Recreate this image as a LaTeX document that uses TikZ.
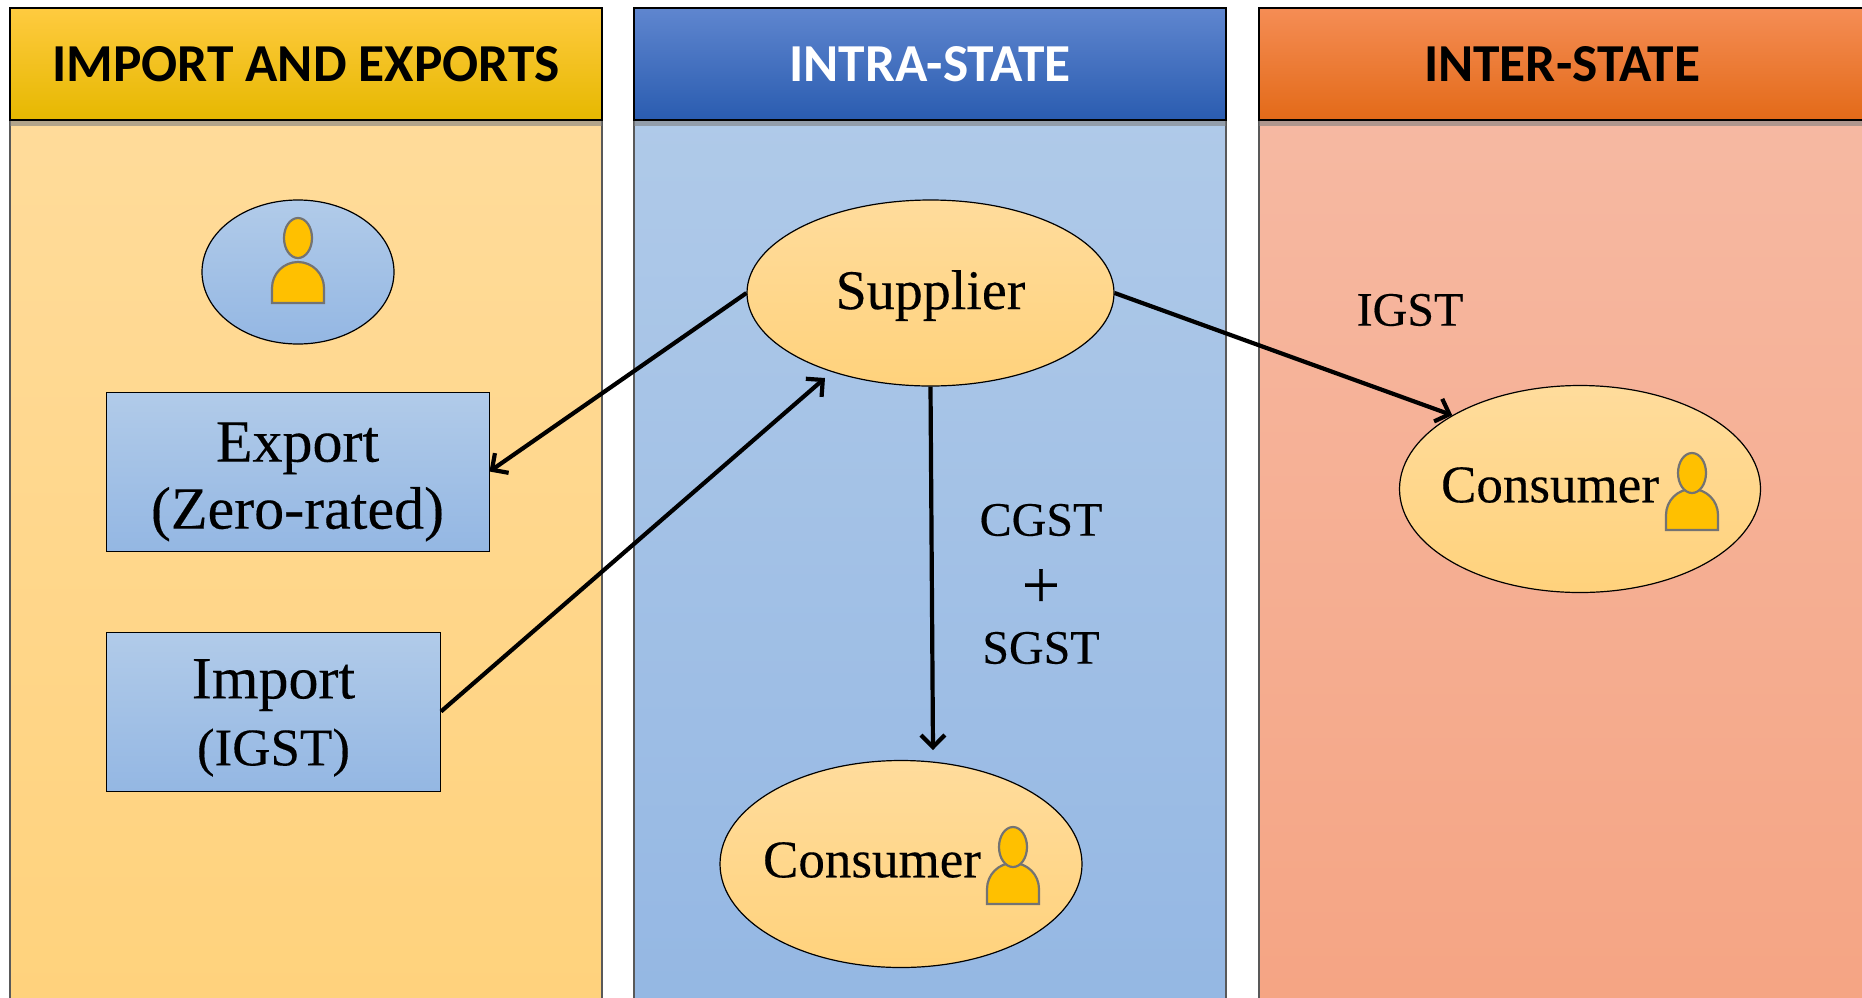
\documentclass[tikz,border=0pt]{standalone}
\usepackage{fontspec}
\setmainfont[FakeBold=0.25]{Liberation Serif}
\newfontfamily\headfont{Carlito}
\usepackage{xcolor}
\usetikzlibrary{positioning, arrows.meta, shapes, shadows}

\definecolor{goldTop}{HTML}{FFCB40}
\definecolor{goldMid}{HTML}{FFC000}
\definecolor{goldLow}{HTML}{E6B800}
\definecolor{blueTop}{HTML}{5F86CF}
\definecolor{blueMid}{HTML}{3B6EC8}
\definecolor{blueLow}{HTML}{2A5CB0}
\definecolor{orangeTop}{HTML}{F58D55}
\definecolor{orangeMid}{HTML}{F57B2E}
\definecolor{orangeLow}{HTML}{E36A18}
\definecolor{paleGold}{HTML}{FFDC9C}
\definecolor{lowGold}{HTML}{FFD27C}
\definecolor{paleBlue}{HTML}{B1CBE9}
\definecolor{lowBlue}{HTML}{94B7E3}
\definecolor{paleRed}{HTML}{F6BAA4}
\definecolor{lowRed}{HTML}{F5A483}

\tikzset{
    panelbox/.style={draw=black!65, line width=0.7pt, minimum width=296pt, minimum height=480pt, inner sep=0pt},
    headbox/.style={draw=black, line width=1.1pt, minimum width=296pt, minimum height=56pt, inner sep=0pt,
        font=\headfont\bfseries\fontsize{26.7}{32}\selectfont,
        drop shadow={shadow xshift=0pt, shadow yshift=-3pt, opacity=0.6}},
    goldoval/.style={ellipse, draw=black, line width=0.6pt, top color=paleGold, bottom color=lowGold, inner sep=0pt},
    blueoval/.style={ellipse, draw=black, line width=0.6pt, top color=paleBlue, bottom color=lowBlue, inner sep=0pt},
    bluebox/.style={draw=black, line width=0.5pt, top color=paleBlue, bottom color=lowBlue, inner sep=0pt, align=center,
        font=\fontsize{30}{33.5}\selectfont},
    txt/.style={font=\fontsize{26.5}{32}\selectfont, align=center, inner sep=0pt},
    flow/.style={-{Straight Barb[length=6pt, width=12pt]}, line width=2.1pt},
    pics/personicon/.style={code={
        \draw[draw=black!55, line width=1.1pt, fill=goldMid] (-26,#1+41) -- (-26,#1+26) arc[start angle=180, end angle=360, radius=26] -- (26,#1+41) -- cycle;
        \draw[draw=black!55, line width=1.1pt, fill=goldMid] (0,0) ellipse [x radius=14, y radius=20];
    }}
}

\begin{document}
\begin{tikzpicture}[x=0.5pt, y=-0.5pt]
    \useasboundingbox (0,0) rectangle (1862,997);

    % Panels
    \node[panelbox, top color=paleGold, bottom color=lowGold, anchor=north] (importpanel) at (306,60) {};
    \node[panelbox, top color=paleBlue, bottom color=lowBlue, anchor=north] (intrapanel) at (930,60) {};
    \node[panelbox, top color=paleRed, bottom color=lowRed, anchor=north, minimum width=306pt] (interpanel) at (1565,60) {};

    % Headers
    \node[headbox, top color=goldTop, middle color=goldMid, bottom color=goldLow] (importhead) at (306,64) {IMPORT AND EXPORTS};
    \node[headbox, top color=blueTop, middle color=blueMid, bottom color=blueLow, text=white] (intrahead) at (930,64) {INTRA-STATE};
    \node[headbox, top color=orangeTop, middle color=orangeMid, bottom color=orangeLow, minimum width=303pt] (interhead) at (1562,64) {INTER-STATE};

    % Left column
    \node[blueoval, minimum width=96pt, minimum height=72pt] (trader) at (298,272) {};
    \pic at (298,238) {personicon=24};
    \node[bluebox, minimum width=191.5pt, minimum height=79.5pt] (export) at (297.5,471.5) {\rule{0pt}{30pt}Export\\(Zero-rated)};
    \node[bluebox, minimum width=167pt, minimum height=79.5pt] (import) at (273.5,711.5) {\rule{0pt}{26pt}Import\\{\fontsize{26.5}{33.5}\selectfont (IGST)}};

    % Ovals
    \node[goldoval, minimum width=183.5pt, minimum height=93pt, txt, font=\fontsize{28}{32}\selectfont] (supplier) at (930.5,293) {\rule{0pt}{22pt}Supplier};
    \node[goldoval, minimum width=181pt, minimum height=103.5pt] (localbuyer) at (901,864) {};
    \node[txt] (localname) at (872,860) {Consumer};
    \pic at (1013,847) {personicon=16};
    \node[goldoval, minimum width=180.5pt, minimum height=103.5pt] (farbuyer) at (1580,489) {};
    \node[txt] (farname) at (1550,485) {Consumer};
    \pic at (1692,473) {personicon=16};

    % Tax labels
    \node[txt, font=\fontsize{24}{32}\selectfont] (localtax) at (1041,584) {CGST\\\smash{\raisebox{-4pt}{\fontsize{34}{32}\selectfont +}}\\SGST};
    \node[txt, font=\fontsize{24}{32}\selectfont] (fartax) at (1410,310) {IGST};

    % Flows
    \coordinate (supplierin) at (825,378);
    \coordinate (localin) at (933,750);
    \draw[flow] (supplier.west) -- (export.east);
    \draw[flow] (import.east) -- (supplierin);
    \draw[flow] (supplier.south) -- (localin);
    \draw[flow] (supplier.east) -- (farbuyer.150);
\end{tikzpicture}
\end{document}
